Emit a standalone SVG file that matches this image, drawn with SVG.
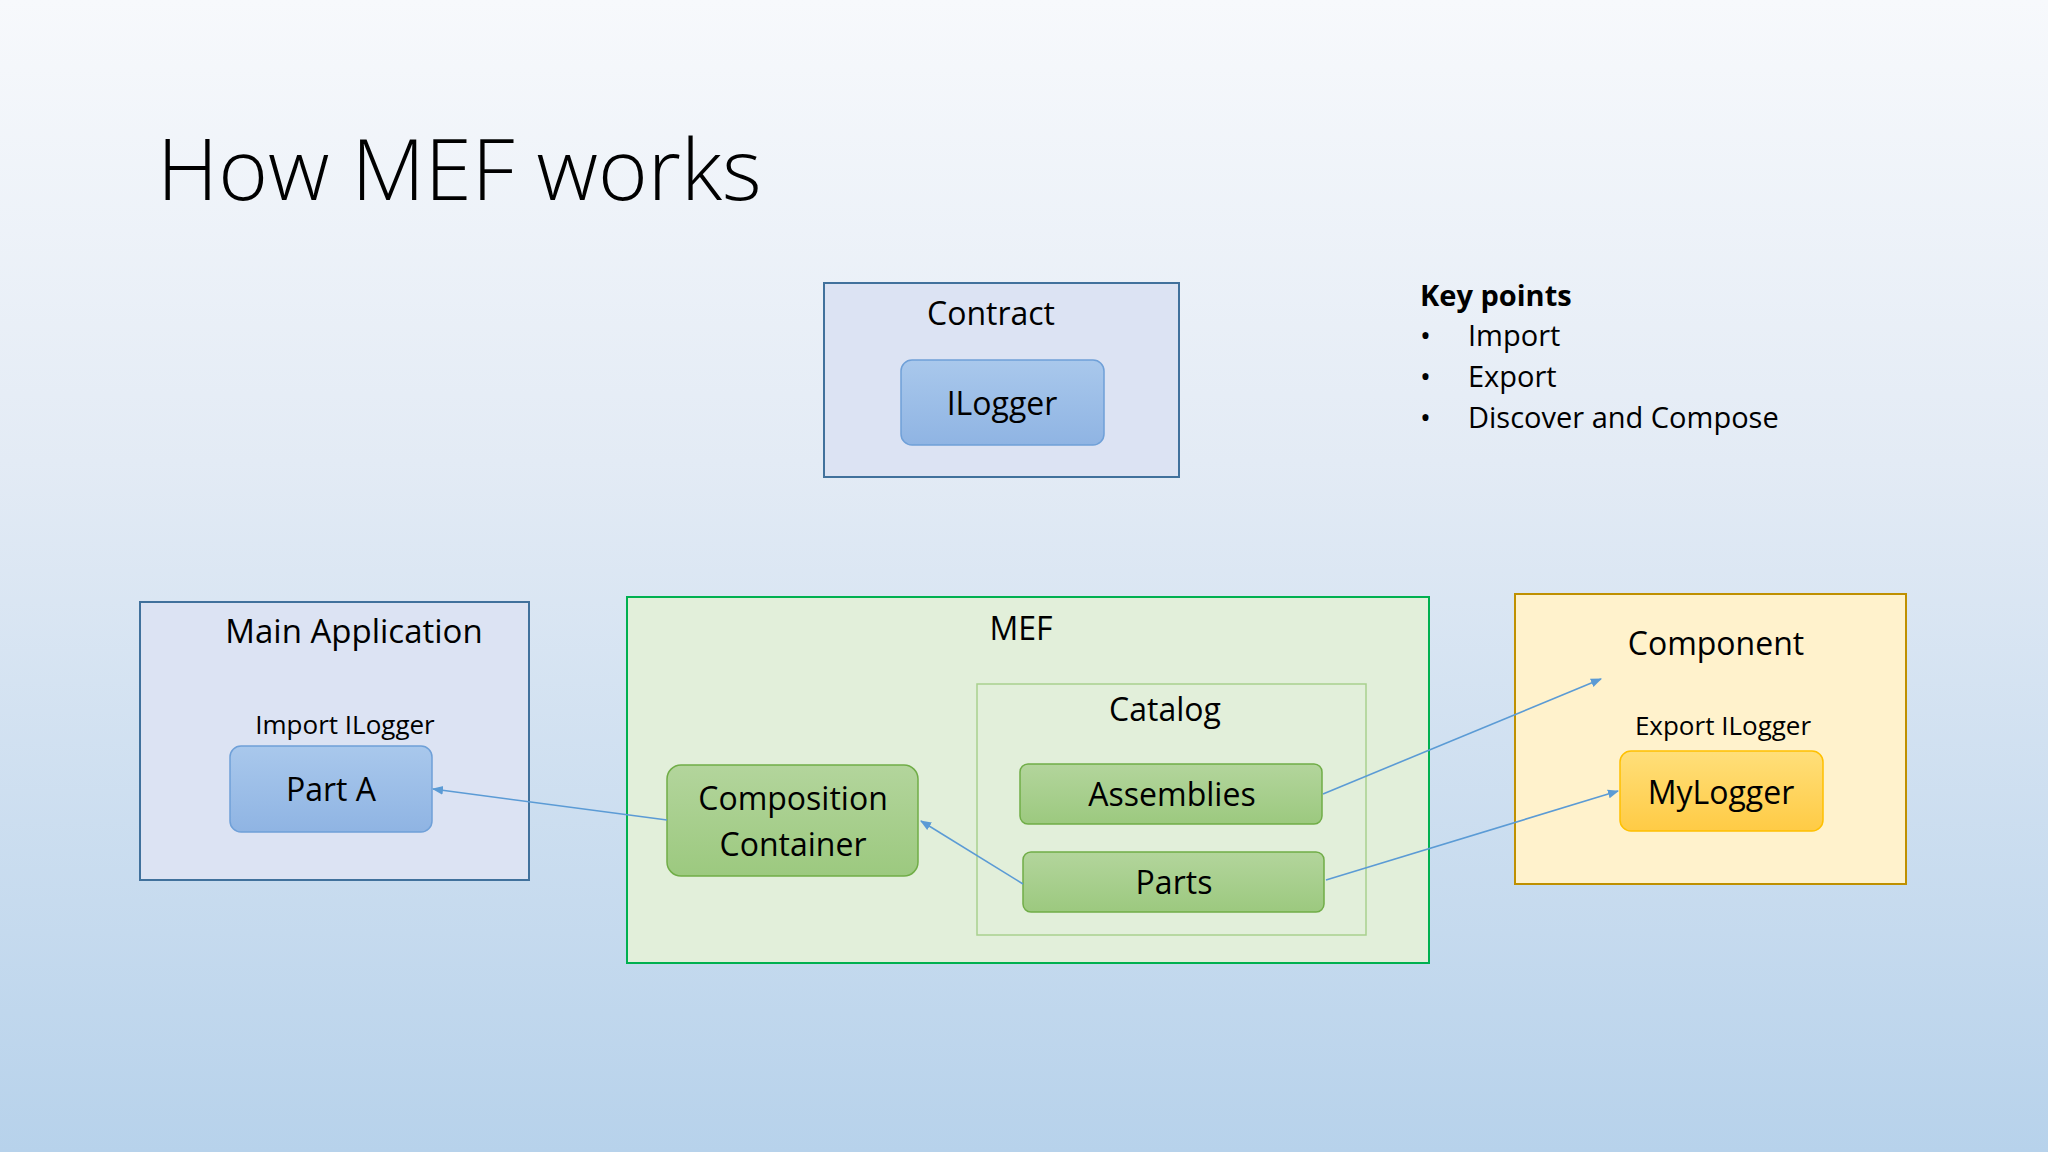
<svg xmlns="http://www.w3.org/2000/svg" width="2048" height="1152" viewBox="0 0 2048 1152">
<defs>
<linearGradient id="bg" x1="0" y1="0" x2="0" y2="1"><stop offset="0" stop-color="#f7f9fc"/><stop offset="0.4" stop-color="#e3ebf5"/><stop offset="1" stop-color="#b7d2eb"/></linearGradient>
<linearGradient id="gb" x1="0" y1="0" x2="0" y2="1"><stop offset="0" stop-color="#a9c8ec"/><stop offset="1" stop-color="#8fb4e3"/></linearGradient>
<linearGradient id="gg" x1="0" y1="0" x2="0" y2="1"><stop offset="0" stop-color="#b3d59c"/><stop offset="1" stop-color="#9cc97f"/></linearGradient>
<linearGradient id="gy" x1="0" y1="0" x2="0" y2="1"><stop offset="0" stop-color="#ffdf7a"/><stop offset="1" stop-color="#ffcb45"/></linearGradient>
<marker id="ah" viewBox="0 0 10 10" refX="9" refY="5" markerWidth="7" markerHeight="7" orient="auto-start-reverse"><path d="M0,1 L10,5 L0,9 z" fill="#5b9bd5"/></marker>
<style>
text{font-family:"Open Sans","Noto Sans","Liberation Sans",sans-serif;fill:#000}
.t{font-size:32px;text-anchor:middle}
.s{font-size:26px;text-anchor:middle}
.k{font-size:29px}
.c{stroke:#5b9bd5;stroke-width:1.6;fill:none;marker-end:url(#ah)}
</style>
</defs>
<rect width="2048" height="1152" fill="url(#bg)"/>
<text x="157" y="200" style="font-size:85px;font-weight:300">How MEF works</text>
<g id="keypoints">
<text x="1420" y="306" class="k" style="font-weight:bold">Key points</text>
<text x="1420" y="346" class="k">•</text><text x="1468" y="346" class="k">Import</text>
<text x="1420" y="387" class="k">•</text><text x="1468" y="387" class="k">Export</text>
<text x="1420" y="428" class="k">•</text><text x="1468" y="428" class="k">Discover and Compose</text>
</g>
<g id="contract"><rect x="824" y="283" width="355" height="194" fill="#dce3f3" stroke="#41719c" stroke-width="2"/><text x="991" y="325" class="t">Contract</text></g>
<g id="ilogger"><rect x="901" y="360" width="203" height="85" rx="11" fill="url(#gb)" stroke="#6fa0d8" stroke-width="1.5"/><text x="1002" y="415" class="t">ILogger</text></g>
<g id="mainapp"><rect x="140" y="602" width="389" height="278" fill="#dce3f3" stroke="#41719c" stroke-width="2"/><text x="354" y="643" class="t" style="font-size:33px">Main Application</text><text x="345" y="734" class="s">Import ILogger</text></g>
<g id="parta"><rect x="230" y="746" width="202" height="86" rx="11" fill="url(#gb)" stroke="#6fa0d8" stroke-width="1.5"/><text x="331" y="801" class="t">Part A</text></g>
<g id="mef"><rect x="627" y="597" width="802" height="366" fill="#e2efda" stroke="#00b050" stroke-width="2"/><text x="1021" y="640" class="t">MEF</text></g>
<g id="catalog"><rect x="977" y="684" width="389" height="251" fill="none" stroke="#a9d18e" stroke-width="1.5"/><text x="1165" y="721" class="t">Catalog</text></g>
<g id="container"><rect x="667" y="765" width="251" height="111" rx="14" fill="url(#gg)" stroke="#70ad47" stroke-width="1.5"/><text x="793" y="810" class="t">Composition</text><text x="793" y="856" class="t">Container</text></g>
<g id="assemblies"><rect x="1020" y="764" width="302" height="60" rx="8" fill="url(#gg)" stroke="#70ad47" stroke-width="1.5"/><text x="1172" y="806" class="t">Assemblies</text></g>
<g id="parts"><rect x="1023" y="852" width="301" height="60" rx="8" fill="url(#gg)" stroke="#70ad47" stroke-width="1.5"/><text x="1174" y="894" class="t">Parts</text></g>
<g id="component"><rect x="1515" y="594" width="391" height="290" fill="#fff2cc" stroke="#bf9000" stroke-width="2"/><text x="1716" y="655" class="t">Component</text><text x="1723" y="735" class="s">Export ILogger</text></g>
<g id="mylogger"><rect x="1620" y="751" width="203" height="80" rx="11" fill="url(#gy)" stroke="#ffc000" stroke-width="1.5"/><text x="1721" y="804" class="t">MyLogger</text></g>
<g id="connectors">
<line x1="667" y1="820" x2="433" y2="789" class="c"/>
<line x1="1023" y1="884" x2="921" y2="821" class="c"/>
<line x1="1323" y1="794" x2="1601" y2="679" class="c"/>
<line x1="1326" y1="880" x2="1618" y2="791" class="c"/>
</g>
</svg>
